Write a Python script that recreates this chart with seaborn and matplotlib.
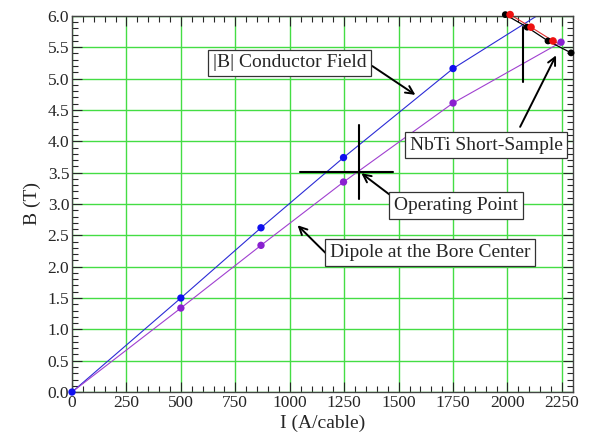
import numpy as np
import pandas as pd
import seaborn as sns
import matplotlib.pyplot as plt
from matplotlib.ticker import MultipleLocator

# |B| conductor field (blue) and dipole field at bore center (purple)
current = [0, 500, 868, 1247, 1750]
b_conductor = [0.0, 1.50, 2.62, 3.74, 5.16]
b_dipole = [0.0, 1.34, 2.34, 3.35, 4.61]
# curves continue past the last computed point
curve_i_blue = [0, 500, 868, 1247, 1750, 2135]
curve_b_blue = [0.0, 1.50, 2.62, 3.74, 5.16, 6.0]
curve_i_purple = [0, 500, 868, 1247, 1750, 2246]
curve_b_purple = [0.0, 1.34, 2.34, 3.35, 4.61, 5.58]
dipole_end_i = [2246]
dipole_end_b = [5.58]

# NbTi short-sample limits
ss_black_i = [1990, 2090, 2186, 2292]
ss_black_b = [6.02, 5.82, 5.60, 5.41]
ss_red_i = [2012, 2108, 2209]
ss_red_b = [6.02, 5.82, 5.60]

op_i, op_b = 1320, 3.51
quench_i = 2071
quench_b = [4.95, 5.83]

x_ticks = list(range(0, 2251, 250))
y_ticks = [0.0, 0.5, 1.0, 1.5, 2.0, 2.5, 3.0, 3.5, 4.0, 4.5, 5.0, 5.5, 6.0]

# label text, box center, arrow tail, arrow tip
labels = ['|B| Conductor Field', 'Operating Point', 'Dipole at the Bore Center', 'NbTi Short-Sample']
label_pos = [(999, 5.25), (1764, 2.98), (1645, 2.23), (1902, 3.94)]
arrow_tail = [(1379, 5.20), (1462, 3.14), (1164, 2.22), (2058, 4.23)]
arrow_tip = [(1577, 4.74), (1329, 3.49), (1036, 2.66), (2223, 5.37)]

sns.set_style("ticks")
plt.rcParams['font.family'] = ['Liberation Serif', 'DejaVu Serif']

fig = plt.figure(figsize=(5.92, 4.41), dpi=100)
ax = fig.add_axes([0.1216, 0.111, 0.846, 0.853])

blue = '#2b2bd6'
purple = '#a040d0'

sns.lineplot(x=curve_i_blue, y=curve_b_blue, ax=ax, color=blue, lw=0.8, sort=False)
sns.lineplot(x=curve_i_purple, y=curve_b_purple, ax=ax, color=purple, lw=0.8, sort=False)
sns.lineplot(x=ss_black_i, y=ss_black_b, ax=ax, color='black', lw=0.9, sort=False)
sns.lineplot(x=ss_red_i + [2240], y=ss_red_b + [5.55], ax=ax, color='#e03030', lw=0.8, sort=False)

sns.scatterplot(x=current, y=b_conductor, ax=ax, color='#1010ee', s=28, edgecolor='none', zorder=5, clip_on=False)
sns.scatterplot(x=current[1:] + dipole_end_i, y=b_dipole[1:] + dipole_end_b, ax=ax, color='#8a20d0',
                s=28, edgecolor='none', zorder=5, clip_on=False)
sns.scatterplot(x=ss_black_i, y=ss_black_b, ax=ax, color='black', s=24, edgecolor='none', zorder=5, clip_on=False)
sns.scatterplot(x=ss_red_i, y=ss_red_b, ax=ax, color='#ee1111', s=30, edgecolor='none', zorder=6, clip_on=False)

# operating point crosshair and quench line
ax.plot([1045, 1475], [op_b, op_b], color='black', lw=1.5)
ax.plot([op_i, op_i], [3.08, 4.26], color='black', lw=1.5)
ax.plot([quench_i, quench_i], quench_b, color='black', lw=1.5)

ax.set_xlim(0, 2300)
ax.set_ylim(0, 6.0)
ax.set_xticks(x_ticks)
ax.set_yticks(y_ticks)
ax.set_yticklabels([f"{v:.1f}" for v in y_ticks])
ax.xaxis.set_minor_locator(MultipleLocator(50))
ax.yaxis.set_minor_locator(MultipleLocator(0.1))
ax.tick_params(which='both', direction='in', top=True, right=True, labelsize=12.5, pad=2)
ax.tick_params(which='major', length=7, width=0.8)
ax.tick_params(which='minor', length=4, width=0.8)
ax.grid(True, which='major', color='#44dd44', lw=1.0)
ax.set_axisbelow(True)
for s in ax.spines.values():
    s.set_linewidth(1.0)
    s.set_color('#444444')

ax.set_xlabel('I (A/cable)', fontsize=14, labelpad=3)
ax.set_ylabel('B (T)', fontsize=14, labelpad=5)

box = dict(boxstyle='square,pad=0.25', fc='white', ec='#333333', lw=0.9)
arrow = dict(arrowstyle='->', color='black', lw=1.4, shrinkA=0, shrinkB=0, mutation_scale=14)

for text, pos, tail, tip in zip(labels, label_pos, arrow_tail, arrow_tip):
    ax.annotate('', xy=tip, xytext=tail, arrowprops=arrow, zorder=7)
    ax.text(pos[0], pos[1], text, fontsize=14, ha='center', va='center', bbox=box, zorder=8)

fig.savefig('out.png', dpi=100)
